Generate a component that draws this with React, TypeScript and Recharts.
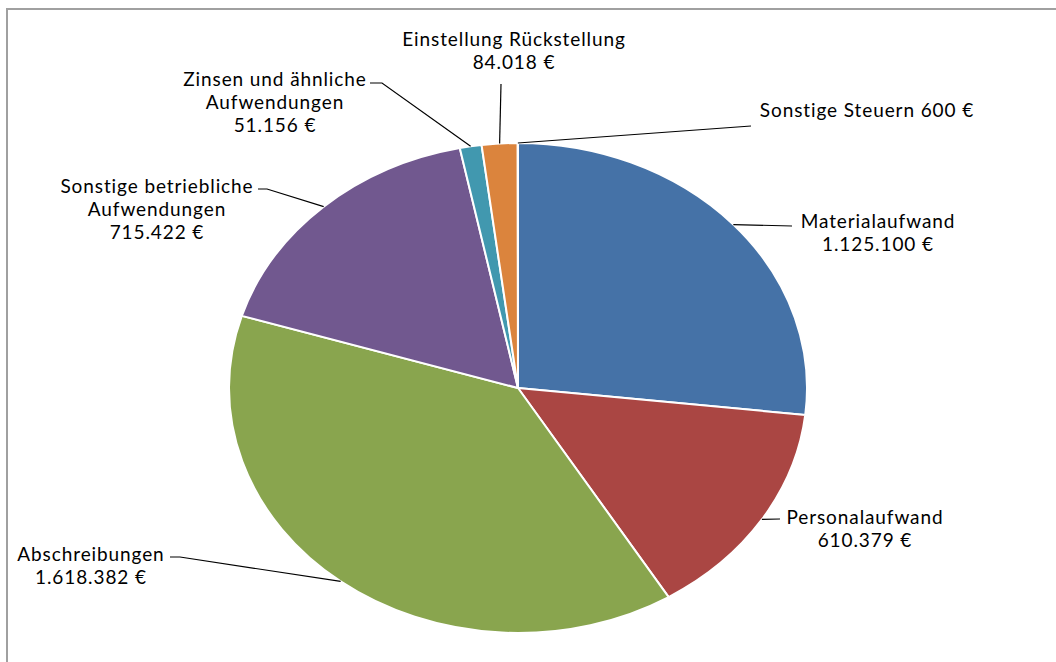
import React from "react";
import { PieChart, Pie, Cell } from "recharts";

const categories = [
  "Materialaufwand",
  "Personalaufwand",
  "Abschreibungen",
  "Sonstige betriebliche Aufwendungen",
  "Zinsen und ähnliche Aufwendungen",
  "Einstellung Rückstellung",
  "Sonstige Steuern",
];
const values = [1125100, 610379, 1618382, 715422, 51156, 84018, 600];
const valueLabels = ["1.125.100 €", "610.379 €", "1.618.382 €", "715.422 €", "51.156 €", "84.018 €", "600 €"];
const colors = ["#4572A7", "#AA4643", "#89A54E", "#71588F", "#4198AF", "#DB843D", "#93A9CF"];

// label text lines per slice
const labelLines: string[][] = [
  ["Materialaufwand", "1.125.100 €"],
  ["Personalaufwand", "610.379 €"],
  ["Abschreibungen", "1.618.382 €"],
  ["Sonstige betriebliche", "Aufwendungen", "715.422 €"],
  ["Zinsen und ähnliche", "Aufwendungen", "51.156 €"],
  ["Einstellung Rückstellung", "84.018 €"],
  ["Sonstige Steuern  600 €"],
];

// layout: text center x, first line y, leader path points after slice edge point
const labelLayout = [
  { x: 878, y: 220, leader: [[792, 226]] },
  { x: 865, y: 516, leader: [[780, 519]] },
  { x: 91, y: 553, leader: [[180, 557], [170, 557]] },
  { x: 157, y: 185, leader: [[267, 189], [258, 189]] },
  { x: 275, y: 78, leader: [[382, 83], [370, 83]] },
  { x: 514, y: 38, leader: [[501, 84]] },
  { x: 867, y: 109, leader: [[751, 126]] },
];

const data = categories.map((c, i) => ({ name: c, value: values[i], label: valueLabels[i] }));

const CX = 518;
const CY = 388;
const R = 289;
const K = 245 / 289;
const RAD = Math.PI / 180;
const FONT = "Lato, 'Open Sans', sans-serif";
const LINE_H = 23;

const ept = (cx: number, cy: number, r: number, a: number) => [
  cx + r * Math.cos(a * RAD),
  cy - r * K * Math.sin(a * RAD),
];

const EllipseSector = (props: any) => {
  const { cx, cy, outerRadius, startAngle, endAngle, fill } = props;
  const [x1, y1] = ept(cx, cy, outerRadius, startAngle);
  const [x2, y2] = ept(cx, cy, outerRadius, endAngle);
  const span = Math.abs(endAngle - startAngle);
  const large = span > 180 ? 1 : 0;
  const sweep = endAngle < startAngle ? 1 : 0;
  const d = `M${cx},${cy} L${x1},${y1} A${outerRadius},${outerRadius * K} 0 ${large} ${sweep} ${x2},${y2} Z`;
  return <path d={d} fill={fill} stroke="#ffffff" strokeWidth={2} strokeLinejoin="round" />;
};

const renderLabel = (props: any) => {
  const { cx, cy, outerRadius, midAngle, index } = props;
  const lay = labelLayout[index];
  const [ex, ey] = ept(cx, cy, outerRadius, midAngle);
  const pts = [[ex, ey], ...lay.leader].map((p) => p.join(",")).join(" ");
  return (
    <g key={`lbl-${index}`}>
      <polyline points={pts} fill="none" stroke="#000" strokeWidth={1.2} />
      <text
        x={lay.x}
        y={lay.y}
        textAnchor="middle"
        dominantBaseline="central"
        fontFamily={FONT}
        fontSize={19}
        letterSpacing={0.9}
        fill="#000"
      >
        {labelLines[index].map((t, j) => (
          <tspan key={j} x={lay.x} y={lay.y + j * LINE_H} dominantBaseline="central">
            {t}
          </tspan>
        ))}
      </text>
    </g>
  );
};

export default function App() {
  return (
    <div
      style={{
        position: "absolute",
        left: 0,
        top: 0,
        width: 1056,
        height: 662,
        overflow: "hidden",
        background: "#fff",
      }}
    >
      <div
        style={{
          position: "absolute",
          left: 6,
          top: 8,
          width: 1200,
          height: 800,
          border: "2px solid #a0a0a0",
        }}
      />
      <div style={{ position: "absolute", left: 0, top: 0 }}>
        <PieChart width={1056} height={662} margin={{ top: 0, right: 0, bottom: 0, left: 0 }}>
          <Pie
            data={data}
            dataKey="value"
            nameKey="name"
            cx={CX}
            cy={CY}
            outerRadius={R}
            startAngle={90}
            endAngle={-270}
            isAnimationActive={false}
            shape={EllipseSector}
            label={renderLabel}
            labelLine={false}
            stroke="#fff"
          >
            {data.map((d, i) => (
              <Cell key={d.name} fill={colors[i]} />
            ))}
          </Pie>
        </PieChart>
      </div>
    </div>
  );
}
